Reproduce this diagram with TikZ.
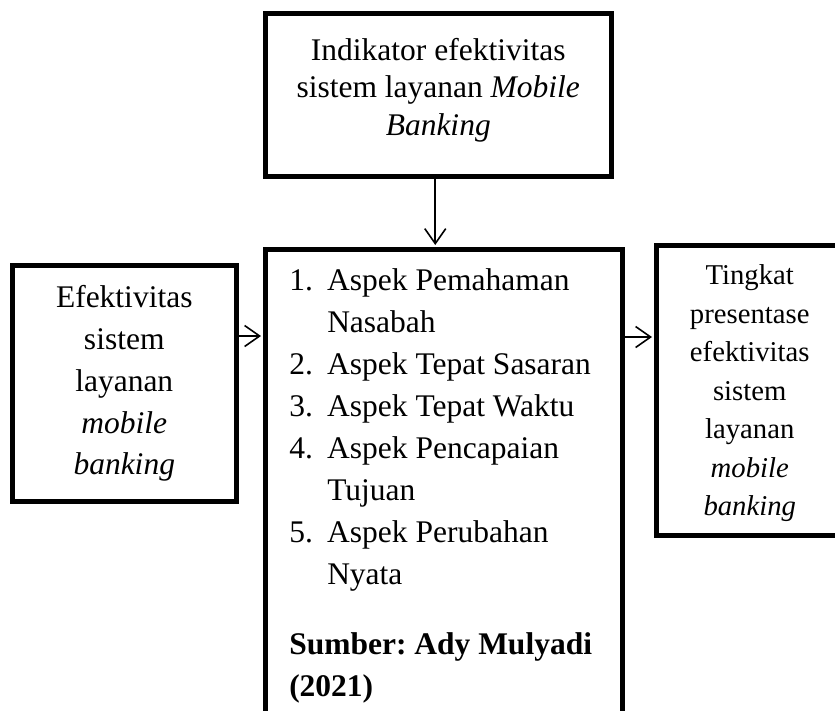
\documentclass[tikz,border=0pt]{standalone}
\usepackage{fontspec}
\setmainfont{Liberation Serif}
\usetikzlibrary{arrows.meta}
\tikzset{
  boxnode/.style={draw=black, line width=4.5pt, inner sep=0pt, anchor=north west, fill=white},
  arr/.style={line width=1.6pt, -{Straight Barb[length=15pt,width=21pt,line width=1.6pt]}, shorten >=2pt}
}
\newcommand{\bigtxt}{\fontsize{31.5pt}{42pt}\selectfont}
\begin{document}
\frenchspacing
\begin{tikzpicture}[x=1pt,y=-1pt]
\clip (0,0) rectangle (835,710);
\fill[white] (0,0) rectangle (835,710);
% top box
\node[boxnode] (top) at (263,11) {\parbox[c][163pt][t]{346pt}{\fontsize{31.5pt}{37.5pt}\selectfont\centering
  \vspace*{25pt}Indikator efektivitas\\ sistem layanan \textit{Mobile}\\ \textit{Banking}}};
% left box
\node[boxnode] (left) at (10,263) {\parbox[c][236pt][t]{224pt}{\fontsize{31.5pt}{41.7pt}\selectfont\centering
  \vspace*{20.5pt}Efektivitas\\ sistem\\ layanan\\ \textit{mobile}\\ \textit{banking}}};
% middle box
\node[boxnode] (mid) at (263,247) {\parbox[c][490pt][t]{357pt}{\bigtxt\frenchspacing\raggedright\leftskip=24pt
  \vspace*{19.5pt}\makebox[38pt][l]{1.}Aspek Pemahaman\\
  \hspace*{38pt}Nasabah\\
  \makebox[38pt][l]{2.}Aspek Tepat Sasaran\\
  \makebox[38pt][l]{3.}Aspek Tepat Waktu\\
  \makebox[38pt][l]{4.}Aspek Pencapaian\\
  \hspace*{38pt}Tujuan\\
  \makebox[38pt][l]{5.}Aspek Perubahan\\
  \hspace*{38pt}Nyata\\[28pt]
  \textbf{Sumber: Ady Mulyadi}\\
  \textbf{(2021)}}};
% right box
\node[boxnode] (right) at (654,243) {\parbox[c][290pt][t]{187pt}{\fontsize{28.7pt}{38.5pt}\selectfont\centering
  \vspace*{19.4pt}Tingkat\\ presentase\\ efektivitas\\ sistem\\ layanan\\ \textit{mobile}\\ \textit{banking}}};
% connectors
\coordinate (ya) at (0,336);
\coordinate (yb) at (0,337);
\draw[arr] ([xshift=-3pt]top.south) -- ([xshift=-3pt]top.south |- mid.north);
\draw[arr] (left.east |- ya) -- (mid.west |- ya);
\draw[arr] (mid.east |- yb) -- (right.west |- yb);
\end{tikzpicture}
\end{document}
